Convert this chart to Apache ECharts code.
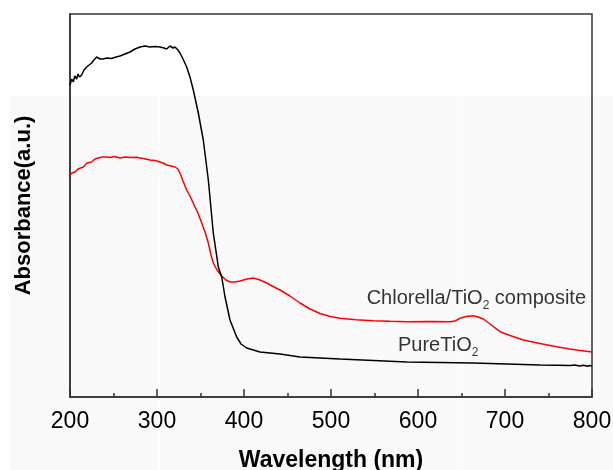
<!DOCTYPE html>
<html>
<head>
<meta charset="utf-8">
<script src="https://cdn.jsdelivr.net/npm/echarts@6/dist/echarts.min.js"></script>
<style>html,body{margin:0;padding:0;background:#fff}#c{width:613px;height:470px}</style>
</head>
<body>
<div id="c"></div>
<script>
// Wavelength (nm) and absorbance (a.u., arbitrary scale)
const pureWavelength = [200,202,203.8,205.5,207.7,209.2,211,213.4,216.1,219.2,222,224.9,227.5,230.7,234.5,237.9,242.5,247.9,252.9,257.5,263.2,269,274.7,280.5,286.2,292,297.7,303.4,308,311.1,314.9,318.4,320.7,324.1,326.4,329.9,334.1,337.9,341.7,347.5,353.2,359,364.7,370.5,374.4,378.2,383.9,391.6,396.6,403.1,418.4,441.4,464.4,510.3,587,663.6,740.2,760,774.7,780,786,790,795,797.7,800];
const pureAbs = [3.12,3.18,3.15,3.21,3.18,3.23,3.20,3.22,3.27,3.30,3.32,3.34,3.37,3.40,3.38,3.38,3.39,3.385,3.40,3.41,3.43,3.45,3.48,3.50,3.51,3.50,3.505,3.50,3.49,3.48,3.51,3.49,3.50,3.47,3.44,3.38,3.30,3.20,3.07,2.84,2.57,2.17,1.64,1.30,1.20,1.00,0.77,0.60,0.53,0.49,0.45,0.43,0.40,0.38,0.35,0.34,0.32,0.318,0.315,0.32,0.31,0.318,0.308,0.315,0.31];

const compWavelength = [200,202.3,205.7,209.2,215.3,219.5,224.9,228.7,232.5,236.8,242.2,246,251.7,257.5,263.2,269,276.7,284,292,297.7,303.4,306.9,311.1,316.1,320.7,324.1,326.4,329.9,334.1,337.9,343.7,347.1,351.4,355.2,359,362.1,364.7,369,374.4,379.3,383.9,389.7,395.4,403.4,410.7,418.4,426.1,433.3,441.4,452.9,464.4,475.9,487.4,498.9,510.3,528.7,548.6,568.1,587,613.8,636.8,642.5,648.3,655.2,663.6,669,675.1,682.8,694.3,705.7,721,740.2,759.4,774.7,786.2,797.7,800];
const compAbs = [2.22,2.24,2.25,2.28,2.30,2.34,2.35,2.38,2.39,2.40,2.40,2.395,2.405,2.39,2.40,2.395,2.397,2.385,2.37,2.365,2.35,2.34,2.32,2.31,2.30,2.28,2.24,2.16,2.07,2.01,1.90,1.84,1.74,1.65,1.54,1.42,1.34,1.27,1.21,1.17,1.15,1.15,1.16,1.18,1.19,1.17,1.14,1.105,1.07,1.01,0.94,0.88,0.835,0.805,0.787,0.773,0.763,0.757,0.753,0.755,0.753,0.76,0.787,0.805,0.813,0.80,0.78,0.73,0.653,0.615,0.57,0.535,0.503,0.48,0.465,0.453,0.45];

const xTicks = [200,300,400,500,600,700,800];
const compLabelAt = [541, 0.985];
const pureLabelAt = [577, 0.52];

const pure = pureWavelength.map((x,i)=>[x,pureAbs[i]]);
const comp = compWavelength.map((x,i)=>[x,compAbs[i]]);

const chart = echarts.init(document.getElementById('c'), null, {renderer:'canvas'});
const FONT = '"Liberation Sans", Arial, sans-serif';
const labelRich = {
  a:{fontSize:20, lineHeight:27, fontFamily:FONT, color:'#000'},
  s:{fontSize:12, lineHeight:12, verticalAlign:'bottom', fontFamily:FONT, color:'#000'}
};
chart.setOption({
  animation:false,
  backgroundColor:'#fff',
  graphic:[
    {type:'rect', z:-10, silent:true, shape:{x:10,y:96,width:603,height:374}, style:{fill:'#f9f9f9'}},
    {type:'line', z:-9, silent:true, shape:{x1:159.5,y1:96,x2:159.5,y2:470}, style:{stroke:'#fdfdfd', lineWidth:1}},
    {type:'line', z:-9, silent:true, shape:{x1:462.5,y1:96,x2:462.5,y2:470}, style:{stroke:'#fdfdfd', lineWidth:1}}
  ],
  grid:{left:70, right:21, top:14, bottom:73, outerBoundsMode:'none', containLabel:false,
        show:true, borderColor:'#333', borderWidth:1.5, backgroundColor:'transparent'},
  xAxis:{
    type:'value', min:xTicks[0], max:xTicks[xTicks.length-1], interval:100,
    axisLine:{show:true, lineStyle:{color:'#333', width:1.5}},
    axisTick:{show:true, inside:true, length:8, lineStyle:{color:'#333', width:1.5}},
    minorTick:{show:true, splitNumber:2, length:4, lineStyle:{color:'#333', width:1.5}},
    splitLine:{show:false},
    axisLabel:{fontSize:23, color:'#000', fontFamily:FONT, margin:13},
    name:'Wavelength (nm)', nameLocation:'middle', nameGap:52,
    nameTextStyle:{fontSize:23, fontWeight:'bold', color:'#000', fontFamily:FONT}
  },
  yAxis:{
    type:'value', min:0, max:3.83,
    axisLine:{show:true, lineStyle:{color:'#333', width:1.5}},
    axisTick:{show:false}, axisLabel:{show:false}, splitLine:{show:false},
    name:'Absorbance(a.u.)', nameLocation:'middle', nameGap:35, nameRotate:90,
    nameTextStyle:{fontSize:22, fontWeight:'bold', color:'#000', fontFamily:FONT}
  },
  series:[
    {type:'line', name:'PureTiO2', data:pure, showSymbol:false, symbol:'none', lineStyle:{color:'#000', width:1.5}, z:3},
    {type:'line', name:'Chlorella/TiO2 composite', data:comp, showSymbol:false, symbol:'none', lineStyle:{color:'#ff0000', width:1.5}, z:2},
    {type:'scatter', symbolSize:0, silent:true, z:5,
     data:[{value:compLabelAt, label:{formatter:'{a|Chlorella/TiO}{s|2}{a| composite}'}},
           {value:pureLabelAt, label:{formatter:'{a|PureTiO}{s|2}'}}],
     label:{show:true, position:'right', distance:0, rich:labelRich}}
  ]
});
</script>
</body>
</html>
